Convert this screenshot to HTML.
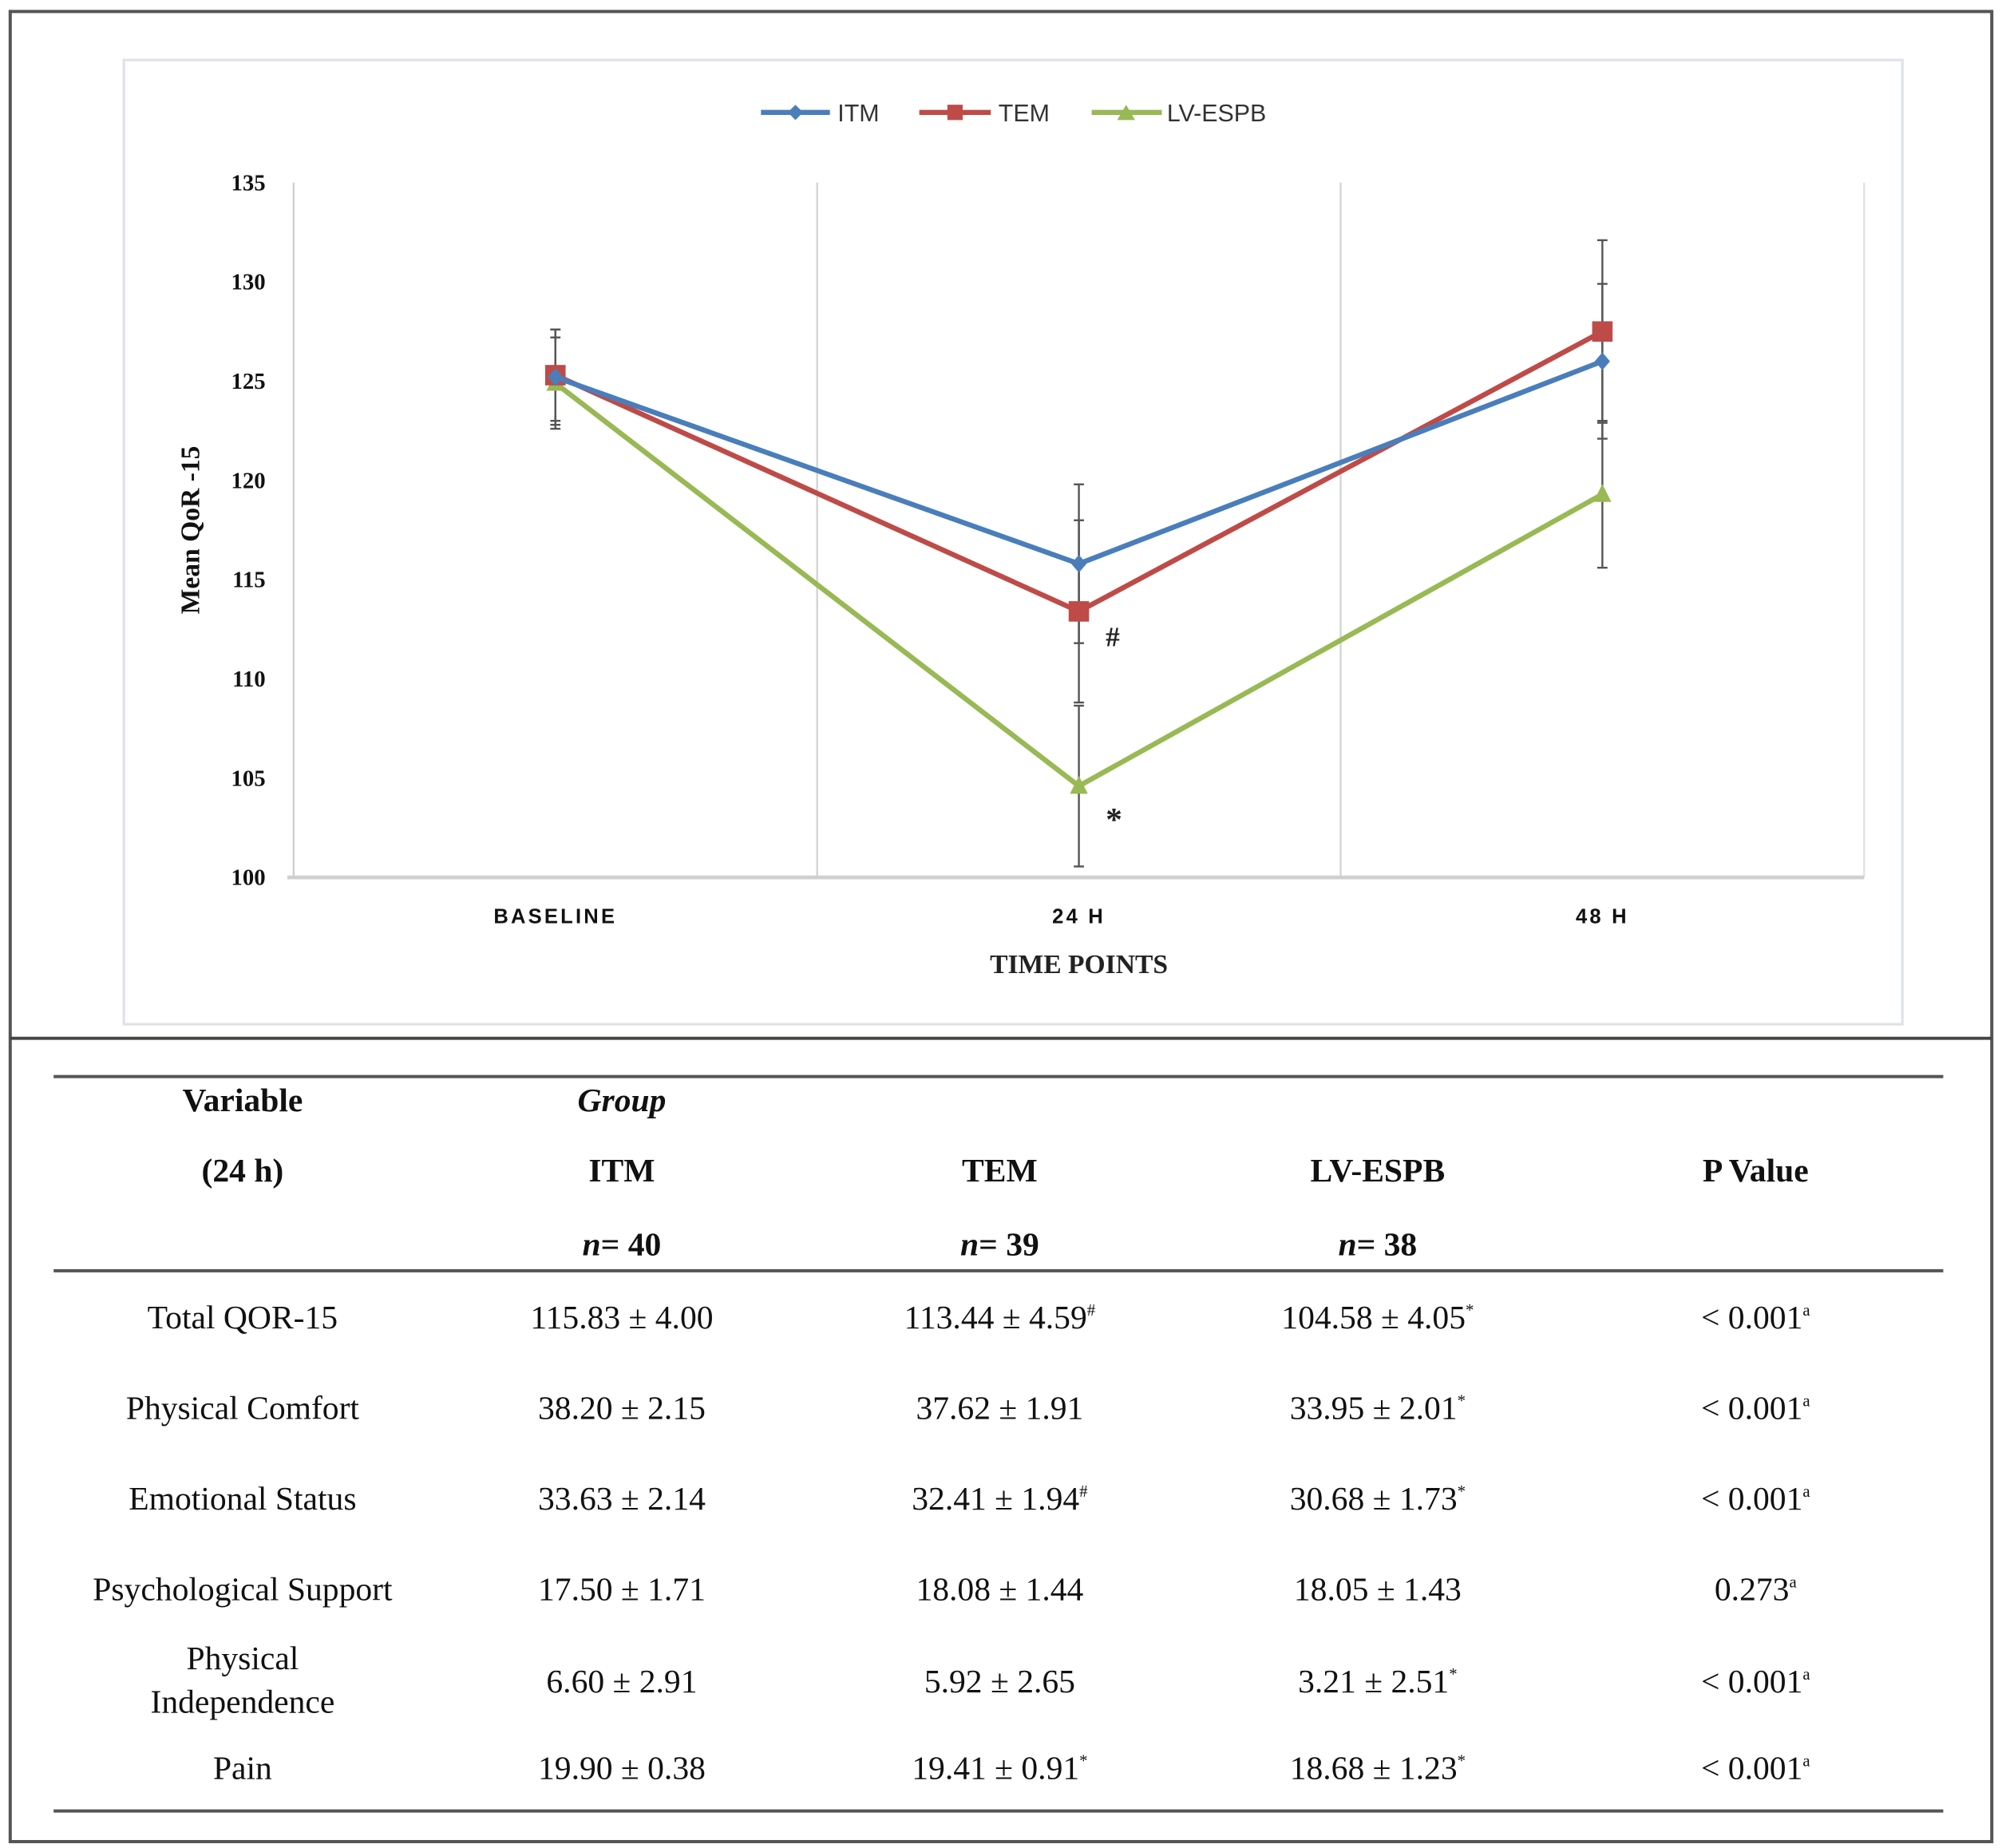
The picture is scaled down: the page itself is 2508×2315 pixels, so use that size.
<!DOCTYPE html>
<html><head><meta charset="utf-8"><style>
html,body{margin:0;padding:0;background:#fff;}
svg{display:block;}
</style></head><body>
<svg id="fig" width="2508" height="2315" viewBox="0 0 1568 1447" preserveAspectRatio="none" xmlns="http://www.w3.org/2000/svg">
<rect x="0" y="0" width="1568" height="1447" fill="#fff"/>
<rect x="8" y="9" width="1552" height="1433" fill="none" stroke="#555" stroke-width="2.5"/>
<line x1="8" y1="813" x2="1560" y2="813" stroke="#444" stroke-width="2.5"/>
<rect x="97" y="47" width="1393" height="755" fill="#fff" stroke="#dfe3e8" stroke-width="2"/>
<g id="chart"></g>
<g font-family="Liberation Sans, sans-serif" font-size="19" fill="#333">
  <g><line x1="596" y1="88" x2="650" y2="88" stroke="#4a7ebb" stroke-width="4"/><path d="M623 82 L629 88 L623 94 L617 88Z" fill="#4a7ebb"/><text x="656" y="95">ITM</text></g>
  <g><line x1="720" y1="88" x2="776" y2="88" stroke="#be4b48" stroke-width="4"/><rect x="742" y="82" width="12" height="12" fill="#be4b48"/><text x="782" y="95">TEM</text></g>
  <g><line x1="855" y1="88" x2="910" y2="88" stroke="#98b954" stroke-width="4"/><path d="M882 82 L889 94 L875 94Z" fill="#98b954"/><text x="914" y="95">LV-ESPB</text></g>
</g>
<text transform="translate(156,415) rotate(-90)" text-anchor="middle" font-family="Liberation Serif, serif" font-weight="bold" font-size="21" fill="#111">Mean QoR -15</text>
<text x="845" y="762" text-anchor="middle" font-family="Liberation Serif, serif" font-weight="bold" font-size="21" fill="#222">TIME POINTS</text>
<text x="866" y="506" font-family="Liberation Serif, serif" font-weight="bold" font-size="22" fill="#222">#</text>
<text x="866" y="650" font-family="Liberation Serif, serif" font-weight="bold" font-size="26" fill="#222">*</text>

<g font-family="Liberation Serif, serif" font-size="26" fill="#111" text-anchor="middle">
  <line x1="42" y1="843" x2="1522" y2="843" stroke="#555" stroke-width="2.5"/>
  <line x1="42" y1="995" x2="1522" y2="995" stroke="#555" stroke-width="2.5"/>
  <line x1="42" y1="1418" x2="1522" y2="1418" stroke="#555" stroke-width="2.5"/>
  <g font-weight="bold">
    <text x="190" y="870">Variable</text>
    <text x="487" y="870" font-style="italic">Group</text>
    <text x="190" y="925">(24 h)</text>
    <text x="487" y="925">ITM</text>
    <text x="783" y="925">TEM</text>
    <text x="1079" y="925">LV-ESPB</text>
    <text x="1375" y="925">P Value</text>
    <text x="487" y="983"><tspan font-style="italic">n</tspan>= 40</text>
    <text x="783" y="983"><tspan font-style="italic">n</tspan>= 39</text>
    <text x="1079" y="983"><tspan font-style="italic">n</tspan>= 38</text>
  </g>
  <g>
    <text x="190" y="1040">Total QOR-15</text><text x="487" y="1040">115.83 ± 4.00</text><text x="783" y="1040">113.44 ± 4.59<tspan font-size="13" dy="-10">#</tspan></text><text x="1079" y="1040">104.58 ± 4.05<tspan font-size="13" dy="-10">*</tspan></text><text x="1375" y="1040">&lt; 0.001<tspan font-size="13" dy="-10">a</tspan></text>
    <text x="190" y="1111">Physical Comfort</text><text x="487" y="1111">38.20 ± 2.15</text><text x="783" y="1111">37.62 ± 1.91</text><text x="1079" y="1111">33.95 ± 2.01<tspan font-size="13" dy="-10">*</tspan></text><text x="1375" y="1111">&lt; 0.001<tspan font-size="13" dy="-10">a</tspan></text>
    <text x="190" y="1182">Emotional Status</text><text x="487" y="1182">33.63 ± 2.14</text><text x="783" y="1182">32.41 ± 1.94<tspan font-size="13" dy="-10">#</tspan></text><text x="1079" y="1182">30.68 ± 1.73<tspan font-size="13" dy="-10">*</tspan></text><text x="1375" y="1182">&lt; 0.001<tspan font-size="13" dy="-10">a</tspan></text>
    <text x="190" y="1253">Psychological Support</text><text x="487" y="1253">17.50 ± 1.71</text><text x="783" y="1253">18.08 ± 1.44</text><text x="1079" y="1253">18.05 ± 1.43</text><text x="1375" y="1253">0.273<tspan font-size="13" dy="-10">a</tspan></text>
    <text x="190" y="1307">Physical</text><text x="190" y="1341">Independence</text><text x="487" y="1325">6.60 ± 2.91</text><text x="783" y="1325">5.92 ± 2.65</text><text x="1079" y="1325">3.21 ± 2.51<tspan font-size="13" dy="-10">*</tspan></text><text x="1375" y="1325">&lt; 0.001<tspan font-size="13" dy="-10">a</tspan></text>
    <text x="190" y="1393">Pain</text><text x="487" y="1393">19.90 ± 0.38</text><text x="783" y="1393">19.41 ± 0.91<tspan font-size="13" dy="-10">*</tspan></text><text x="1079" y="1393">18.68 ± 1.23<tspan font-size="13" dy="-10">*</tspan></text><text x="1375" y="1393">&lt; 0.001<tspan font-size="13" dy="-10">a</tspan></text>
  </g>
</g>
</svg>
<script>
const categories = ["Baseline", "24 h", "48 h"];
const yTicks = [100, 105, 110, 115, 120, 125, 130, 135];
const itmValues = [125.2, 115.8, 126.0];
const itmErr = [2.4, 4.0, 3.9];
const temValues = [125.3, 113.4, 127.5];
const temErr = [2.3, 4.59, 4.6];
const lvValues = [124.9, 104.6, 119.3];
const lvErr = [2.3, 4.05, 3.7];

const NS = "http://www.w3.org/2000/svg";
const g = document.getElementById('chart');
const X0 = 230, X1 = 1460, Y0 = 687, Y1 = 143, YMIN = 100, YMAX = 135;
const band = (X1 - X0) / categories.length;
const xPos = i => X0 + band * (i + 0.5);
const yPos = v => Y0 - (v - YMIN) / (YMAX - YMIN) * (Y0 - Y1);
function mk(tag, attrs, parent) {
  const e = document.createElementNS(NS, tag);
  for (const k in attrs) e.setAttribute(k, attrs[k]);
  (parent || g).appendChild(e);
  return e;
}
// gridlines
for (let i = 1; i < categories.length; i++) {
  const l = mk('line', {x1: X0 + band * i, x2: X0 + band * i, y1: Y1, y2: Y0, stroke: '#d4d4d4', 'stroke-width': 1.5});
  
  
}
const rb = mk('line', {x1: X1, x2: X1, y1: Y1, y2: Y0, stroke: '#e2e2e2', 'stroke-width': 1.5});


const ya = mk('line', {x1: X0, x2: X0, y1: Y1, y2: Y0, stroke: '#d0d0d0', 'stroke-width': 1.5});


const xa = mk('line', {x1: X0 - 5, x2: X1, y1: Y0, y2: Y0, stroke: '#d0d0d0', 'stroke-width': 3});


yTicks.forEach(t => {
  const tx = mk('text', {x: 208, y: yPos(t) + 6, 'text-anchor': 'end', 'font-family': 'Liberation Serif, serif', 'font-weight': 'bold', 'font-size': 18, fill: '#111'});
  tx.textContent = t;
  
  
});
categories.forEach((c, i) => {
  const tx = mk('text', {x: xPos(i), y: 723, 'text-anchor': 'middle', 'font-family': 'Liberation Sans, sans-serif', 'font-weight': 'bold', 'font-size': 16, fill: '#111', 'letter-spacing': 2});
  tx.textContent = c.toUpperCase();
  
  
});
const series = [
  {name: 'itm', vals: itmValues, err: itmErr, color: '#4a7ebb', marker: 'diamond'},
  {name: 'tem', vals: temValues, err: temErr, color: '#be4b48', marker: 'square'},
  {name: 'lv-espb', vals: lvValues, err: lvErr, color: '#98b954', marker: 'triangle'}
];
// error bars
series.forEach(s => {
  s.vals.forEach((v, i) => {
    const x = xPos(i);
    const e = mk('line', {x1: x, x2: x, y1: yPos(v + s.err[i]), y2: yPos(v - s.err[i]), stroke: '#555', 'stroke-width': 1.5});
    
    
    [v + s.err[i], v - s.err[i]].forEach(w => {
      const c = mk('line', {x1: x - 4, x2: x + 4, y1: yPos(w), y2: yPos(w), stroke: '#555', 'stroke-width': 1.5});
      
      
    });
  });
});
series.slice().reverse().forEach(s => {
  const pts = s.vals.map((v, i) => xPos(i) + ',' + yPos(v)).join(' ');
  const pl = mk('polyline', {points: pts, fill: 'none', stroke: s.color, 'stroke-width': 4, 'stroke-linejoin': 'round'});
  
  
  s.vals.forEach((v, i) => {
    const x = xPos(i), y = yPos(v);
    let m;
    if (s.marker === 'diamond') m = mk('path', {d: `M${x} ${y-7} L${x+6} ${y} L${x} ${y+7} L${x-6} ${y}Z`, fill: s.color});
    else if (s.marker === 'square') m = mk('rect', {x: x - 8, y: y - 8, width: 16, height: 16, fill: s.color});
    else m = mk('path', {d: `M${x} ${y-8} L${x+7} ${y+6} L${x-7} ${y+6}Z`, fill: s.color});
    
    
  });
});
</script>
</body></html>
